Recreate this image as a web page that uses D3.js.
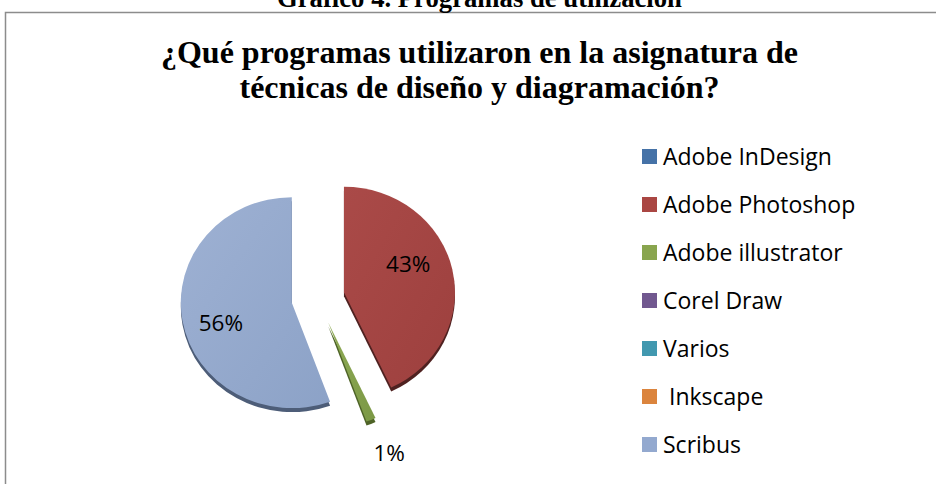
<!DOCTYPE html>
<html>
<head>
<meta charset="utf-8">
<script src="https://cdn.jsdelivr.net/npm/d3@7"></script>
<style>
html, body { margin: 0; padding: 0; background: #fff; overflow: hidden; }
text { fill: #000; }
</style>
</head>
<body>
<div id="svgViewPort"></div>
<script>
// chart data
const categories = ['Adobe InDesign', 'Adobe Photoshop', 'Adobe illustrator', 'Corel Draw', 'Varios', ' Inkscape', 'Scribus'];
const percents = [0, 43, 1.4, 0, 0, 0, 55.6];
const swatchColors = ['#4572a7', '#aa4643', '#89a54e', '#71588f', '#4198af', '#db843d', '#93a9cf'];
const lightColors = ['#4f7db3', '#aa4a48', '#8fab55', '#7a6197', '#4aa2b9', '#e08d47', '#9eb1d3'];
const darkColors = ['#3c6494', '#9d403e', '#7b9845', '#634d7e', '#38869a', '#c47432', '#8ca2c7'];
const sideColors = ['#2a4669', '#4f2120', '#4e6327', '#443656', '#275c6a', '#8a5020', '#4d5d78'];
const captionText = 'Gráfico 4. Programas de utilización';
const titleLines = ['¿Qué programas utilizaron en la asignatura de', 'técnicas de diseño y diagramación?'];

const width = 936;
const height = 484;
const cx = 318;
const cy = 298;
const radius = 111;
const squash = 0.95;
const explode = 26.6;
const depth = 4;

const svg = d3.select('#svgViewPort')
    .append('svg')
    .attr('width', width)
    .attr('height', height);

// frame, only top and left show in the crop
svg.append('path')
    .attr('d', d3.line()([[5.5, height], [5.5, 12.5], [width, 12.5]]))
    .attr('fill', 'none')
    .attr('stroke', '#8c8c8c')
    .attr('stroke-width', 1.5);

svg.append('text')
    .attr('x', 479.5)
    .attr('y', 7)
    .attr('text-anchor', 'middle')
    .style('font-family', '"Liberation Serif"')
    .style('font-weight', 'bold')
    .style('font-size', '26.7px')
    .text(captionText);

svg.selectAll('.title')
    .data(titleLines)
    .enter()
    .append('text')
    .attr('class', 'title')
    .attr('x', 479.5)
    .attr('y', (d, i) => 63 + i * 35)
    .attr('text-anchor', 'middle')
    .style('font-family', '"Liberation Serif"')
    .style('font-weight', 'bold')
    .style('font-size', '32px')
    .text(d => d);

// gradients for the slice faces
const defs = svg.append('defs');
categories.forEach((c, i) => {
    const grad = defs.append('linearGradient')
        .attr('id', 'face' + i)
        .attr('x1', '0%').attr('y1', '0%')
        .attr('x2', '100%').attr('y2', '100%');
    grad.append('stop').attr('offset', '0%').attr('stop-color', lightColors[i]);
    grad.append('stop').attr('offset', '100%').attr('stop-color', darkColors[i]);
});

const pie = d3.pie().sort(null).value(d => d)(percents);
const arc = d3.arc().innerRadius(0).outerRadius(radius);
const slices = pie.filter(d => d.value > 0);

const offset = d => {
    const mid = (d.startAngle + d.endAngle) / 2;
    return [cx + Math.sin(mid) * explode, cy - Math.cos(mid) * explode];
};

const g = svg.append('g');

// side of the slices first, then the faces on top
g.selectAll('.side')
    .data(slices)
    .enter()
    .append('path')
    .attr('class', 'side')
    .attr('d', arc)
    .attr('fill', d => sideColors[d.index])
    .attr('transform', d => {
        const o = offset(d);
        return `translate(${o[0]},${o[1] + depth}) scale(1,${squash})`;
    });

g.selectAll('.face')
    .data(slices)
    .enter()
    .append('path')
    .attr('class', 'face')
    .attr('d', arc)
    .attr('fill', d => `url(#face${d.index})`)
    .attr('transform', d => {
        const o = offset(d);
        return `translate(${o[0]},${o[1]}) scale(1,${squash})`;
    });

// data labels, centroid of a wider arc then a small nudge
const labelArc = d3.arc().innerRadius(70).outerRadius(70);
const labelNudge = { 1: [-4, -13], 2: [34, 66], 6: [-2, 8] };

g.selectAll('.pct')
    .data(slices)
    .enter()
    .append('text')
    .attr('class', 'pct')
    .attr('x', d => offset(d)[0] + labelArc.centroid(d)[0] + labelNudge[d.index][0])
    .attr('y', d => offset(d)[1] + labelArc.centroid(d)[1] + labelNudge[d.index][1])
    .attr('dy', '0.35em')
    .attr('text-anchor', 'middle')
    .style('font-family', '"Open Sans"')
    .style('font-size', '22.5px')
    .text(d => Math.round(d.value) + '%');

// legend
const legendY = d3.scalePoint()
    .domain(categories)
    .range([156.5, 444.5]);

const legend = svg.selectAll('.legend')
    .data(categories)
    .enter()
    .append('g')
    .attr('class', 'legend')
    .attr('transform', d => `translate(642,${legendY(d)})`);

legend.append('rect')
    .attr('y', -7.5)
    .attr('width', 15)
    .attr('height', 15)
    .attr('fill', (d, i) => swatchColors[i]);

legend.append('text')
    .attr('x', 21)
    .attr('dy', '0.35em')
    .attr('xml:space', 'preserve')
    .style('white-space', 'pre')
    .style('font-family', '"Open Sans"')
    .style('font-size', '23px')
    .text(d => d);
</script>
</body>
</html>
